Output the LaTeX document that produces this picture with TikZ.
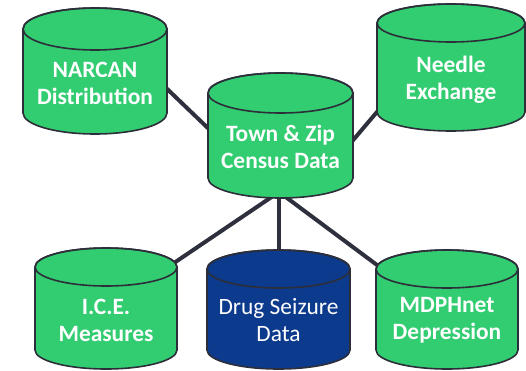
\documentclass[tikz,border=0pt]{standalone}
\usepackage{fontspec}
\setmainfont{Carlito}
\definecolor{cgreen}{RGB}{50,204,113}
\definecolor{cblue}{RGB}{12,58,140}
\definecolor{cline}{RGB}{46,48,62}
\definecolor{cedge}{RGB}{44,46,58}
% #1 cx, #2 top centre y (screen), #3 bottom centre y (screen), #4 rx, #5 ry, #6 fill colour
\newcommand\dbcyl[6]{%
  \filldraw[cylbody,fill=#6] (#1-#4,370-#2) -- (#1-#4,370-#3)
    arc[start angle=180,end angle=360,x radius=#4bp,y radius=#5bp]
    -- (#1+#4,370-#2)
    arc[start angle=0,end angle=180,x radius=#4bp,y radius=#5bp] -- cycle;
  \draw[cylbody] (#1,370-#2) ellipse[x radius=#4bp,y radius=#5bp];
}
\begin{document}
\begin{tikzpicture}[x=1bp,y=1bp,
  cylbody/.style={draw=cedge,line width=1.6bp,line join=round},
  link/.style={draw=cline,line width=4bp},
  lbl/.style={text=white,align=center,font=\fontsize{23.5}{27}\selectfont\bfseries,inner sep=0pt},
  lblr/.style={text=white,align=center,font=\fontsize{23.5}{27}\selectfont,inner sep=0pt}]
\useasboundingbox (0,0) rectangle (526,370);
% attachment points
\coordinate (narR) at (163,370-85);
\coordinate (townL) at (212,370-132);
\coordinate (townR) at (349,370-145);
\coordinate (needL) at (382,370-106);
\coordinate (townB) at (279,370-192);
\coordinate (iceT) at (171,370-265);
\coordinate (drugT) at (279,370-258);
\coordinate (mdpT) at (381,370-268);
% connectors
\draw[link] (narR) -- (townL);
\draw[link] (townR) -- (needL);
\draw[link] (townB) -- (iceT);
\draw[link] (townB) -- (drugT);
\draw[link] (townB) -- (mdpT);
% cylinders
\dbcyl{95}{29}{113}{72}{21}{cgreen}
\dbcyl{451}{23}{112}{74}{19}{cgreen}
\dbcyl{280.5}{93}{178}{72.5}{20}{cgreen}
\dbcyl{106}{267}{350}{71}{19}{cgreen}
\dbcyl{278.5}{269}{350}{71.5}{19}{cblue}
\dbcyl{447}{269}{350}{71}{19}{cgreen}
% labels
\node[lbl] (narcan) at (95,370-83) {NARCAN\\Distribution};
\node[lbl] (needle) at (451,370-80) {Needle\\Exchange};
\node[lbl] (town) at (280.5,370-147) {Town \& Zip\\Census Data};
\node[lbl] (ice) at (106,370-320) {I.C.E.\\Measures};
\node[lblr] (drug) at (278.5,370-320) {Drug Seizure\\Data};
\node[lbl] (mdph) at (447,370-320) {MDPHnet\\Depression};
\end{tikzpicture}
\end{document}
